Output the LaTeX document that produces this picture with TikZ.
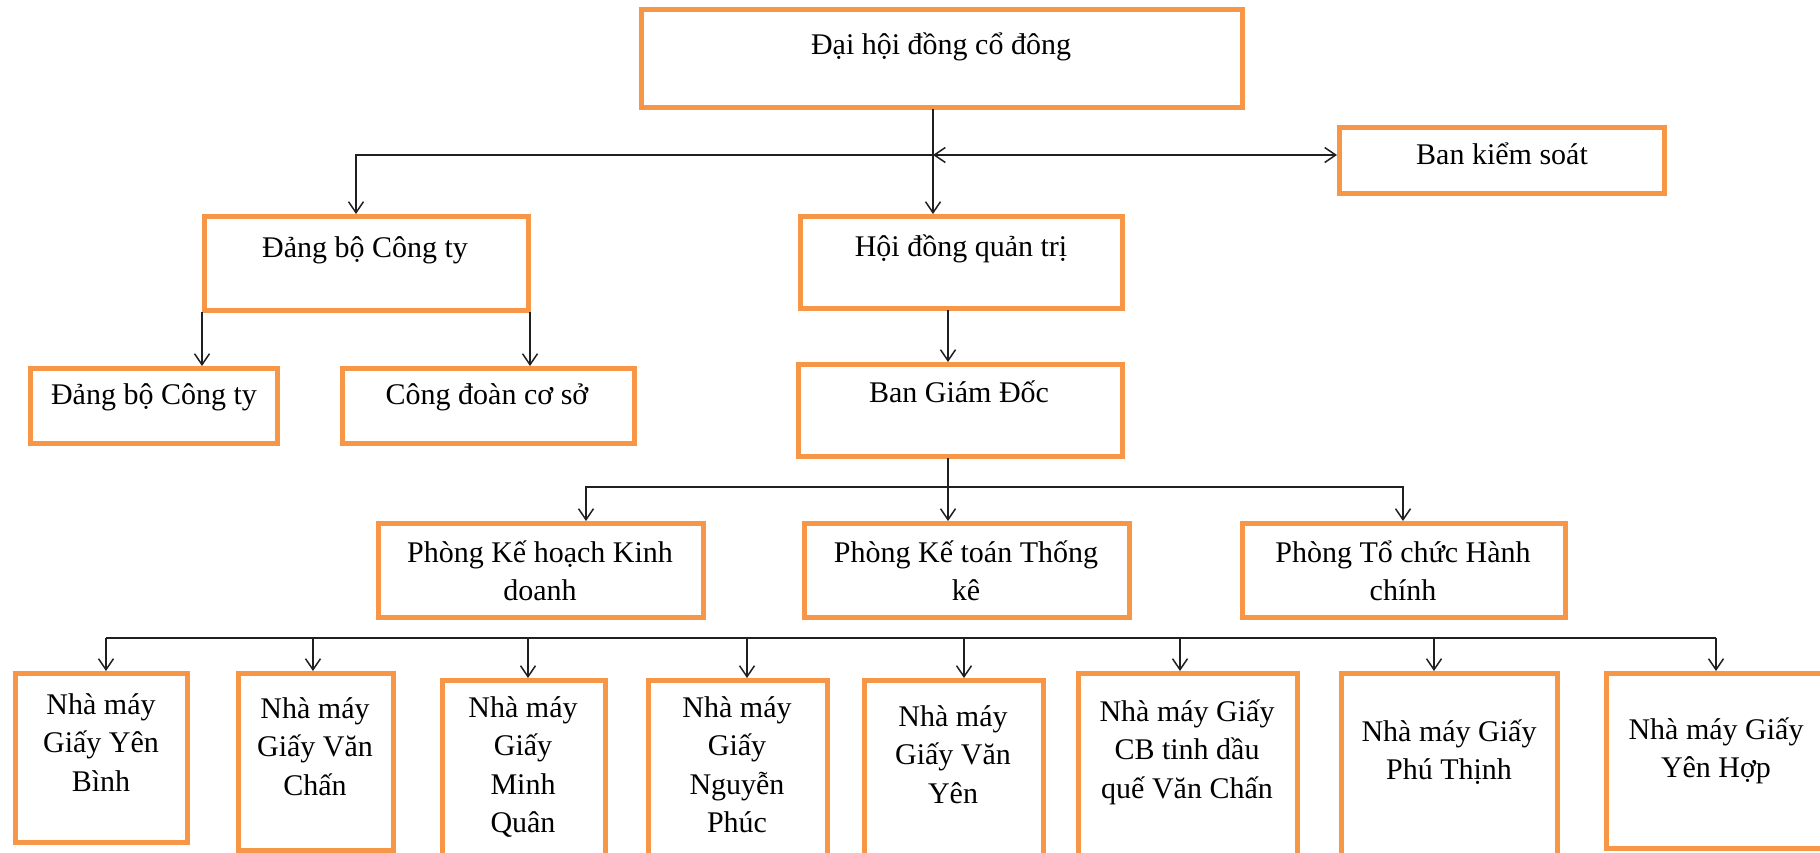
\documentclass[tikz,border=0pt]{standalone}
\usepackage{fontspec}
\setmainfont{Liberation Serif}
\usetikzlibrary{arrows.meta,fit}
\definecolor{boxorange}{HTML}{F79646}
\definecolor{linegray}{HTML}{202020}
\begin{document}
\begin{tikzpicture}[x=1pt,y=-1pt,
  box/.style={draw=boxorange, line width=5pt, inner sep=0pt, outer sep=2pt, rectangle},
  txt/.style={anchor=base, align=center, inner sep=0pt, font=\fontsize{30}{38.5}\selectfont},
  conn/.style={draw=linegray, line width=1.5pt},
  arr/.style={conn, -{Straight Barb[length=11pt,width=15pt,line width=1.5pt]}},
  darr/.style={conn, {Straight Barb[length=11pt,width=15pt,line width=1.5pt]}-{Straight Barb[length=11pt,width=15pt,line width=1.5pt]}},
]
\clip (0,0) rectangle (1820,852);
\fill[white] (0,0) rectangle (1820,852);

% boxes
\node[box, fit={(641,9)(1242,107)}] (dh) {};
\node[box, fit={(1339,127)(1664,193)}] (bks) {};
\node[box, fit={(204,216)(528,310)}] (db1) {};
\node[box, fit={(800,216)(1122,308)}] (hdqt) {};
\node[box, fit={(30,368)(277,443)}] (db2) {};
\node[box, fit={(342,368)(634,443)}] (cd) {};
\node[box, fit={(798,364)(1122,456)}] (bgd) {};
\node[box, fit={(378,523)(703,617)}] (p1) {};
\node[box, fit={(804,523)(1129,617)}] (p2) {};
\node[box, fit={(1242,523)(1565,617)}] (p3) {};
\node[box, fit={(15,673)(187,842)}] (n1) {};
\node[box, fit={(238,673)(393,850)}] (n2) {};
\node[box, fit={(442,680)(605,862)}] (n3) {};
\node[box, fit={(648,680)(827,862)}] (n4) {};
\node[box, fit={(864,680)(1043,862)}] (n5) {};
\node[box, fit={(1078,673)(1297,862)}] (n6) {};
\node[box, fit={(1341,673)(1557,862)}] (n7) {};
\node[box, fit={(1606,673)(1832,848)}] (n8) {};

% texts (anchor=base is the baseline of the last line)
\node[txt] (tdh) at (941,54) {Đại hội đồng cổ đông};
\node[txt] (tbks) at (1502,164) {Ban kiểm soát};
\node[txt] (tdb1) at (365,257) {Đảng bộ Công ty};
\node[txt] (thd) at (961,256) {Hội đồng quản trị};
\node[txt] (tdb2) at (154,404) {Đảng bộ Công ty};
\node[txt] (tcd) at (487,404) {Công đoàn cơ sở};
\node[txt] (tbgd) at (959,402) {Ban Giám Đốc};
\node[txt] (tp1) at (540,600.5) {Phòng Kế hoạch Kinh\\doanh};
\node[txt] (tp2) at (966,600.5) {Phòng Kế toán Thống\\kê};
\node[txt] (tp3) at (1403,600.5) {Phòng Tổ chức Hành\\chính};
\node[txt] (tn1) at (101,791) {Nhà máy\\Giấy Yên\\Bình};
\node[txt] (tn2) at (315,795) {Nhà máy\\Giấy Văn\\Chấn};
\node[txt] (tn3) at (523,832.5) {Nhà máy\\Giấy\\Minh\\Quân};
\node[txt] (tn4) at (737,832.5) {Nhà máy\\Giấy\\Nguyễn\\Phúc};
\node[txt] (tn5) at (953,803) {Nhà máy\\Giấy Văn\\Yên};
\node[txt] (tn6) at (1187,798) {Nhà máy Giấy\\CB tinh dầu\\quế Văn Chấn};
\node[txt] (tn7) at (1449,779.5) {Nhà máy Giấy\\Phú Thịnh};
\node[txt] (tn8) at (1716,777.5) {Nhà máy Giấy\\Yên Hợp};

% connectors
\coordinate (j1) at (933,155);
\coordinate (dbx) at (356,155);
\draw[arr] (dh.south -| j1) -- (hdqt.north -| j1);
\draw[arr] (j1) -- (dbx) -- (db1.north -| dbx);
\draw[darr] (j1) -- (bks.west |- j1);
\draw[arr] (db1.south west) -- (db1.south west |- db2.north);
\draw[arr] (db1.south east) -- (db1.south east |- cd.north);
\coordinate (x2) at (948,487);
\draw[arr] (hdqt.south -| x2) -- (bgd.north -| x2);
\draw[arr] (bgd.south -| x2) -- (p2.north -| x2);
\coordinate (pl) at (586,487);
\coordinate (pr) at (1403,487);
\draw[arr] (x2) -- (pl) -- (p1.north -| pl);
\draw[arr] (x2) -- (pr) -- (p3.north -| pr);
\coordinate (bl) at (106,638);
\coordinate (br) at (1716,638);
\draw[conn] (bl) -- (br);
\foreach \n/\x in {n1/106,n2/313,n3/528,n4/747,n5/964,n6/1180,n7/1434,n8/1716}{
  \coordinate (tmp) at (\x,638);
  \draw[arr] (tmp) -- (tmp |- \n.north);
}
\end{tikzpicture}
\end{document}
